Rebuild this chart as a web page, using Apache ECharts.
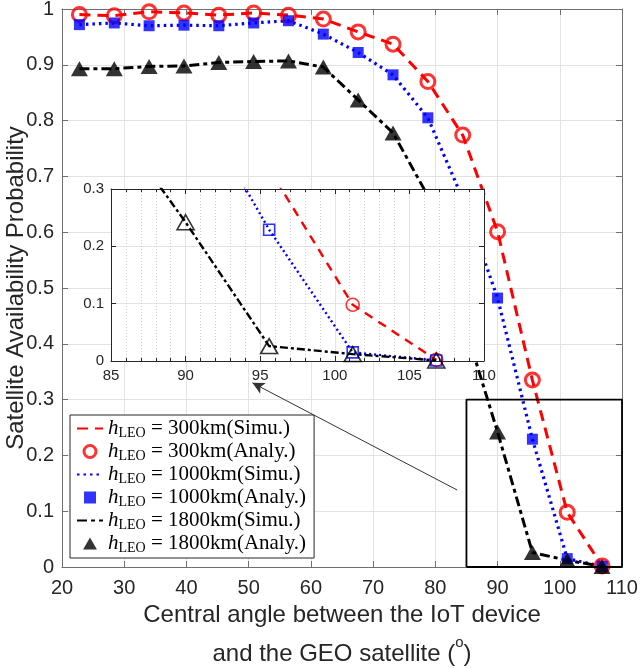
<!DOCTYPE html>
<html><head><meta charset="utf-8">
<script src="https://cdn.jsdelivr.net/npm/echarts@6/dist/echarts.min.js"></script>
<style>html,body{margin:0;padding:0;background:#fff}#c{width:640px;height:668px}</style>
</head><body><div id="c"></div>
<script>
// ---- data ----
const angles = [22.8, 28.4, 34, 39.6, 45.2, 50.8, 56.4, 62, 67.6, 73.2, 78.8, 84.4, 90, 95.6, 101.2, 106.8];
const p300  = [0.990, 0.988, 0.995, 0.993, 0.989, 0.993, 0.989, 0.982, 0.959, 0.937, 0.870, 0.774, 0.601, 0.335, 0.098, 0.002];
const p1000 = [0.972, 0.975, 0.970, 0.971, 0.970, 0.975, 0.979, 0.955, 0.922, 0.882, 0.805, 0.660, 0.482, 0.229, 0.015, 0.001];
const p1800 = [0.893, 0.893, 0.897, 0.898, 0.904, 0.906, 0.907, 0.896, 0.837, 0.778, 0.665, 0.445, 0.242, 0.026, 0.012, 0.001];
const mainX = {min: 20, max: 110, step: 10};
const mainY = {min: 0, max: 1, step: 0.1};
const insetX = {min: 85, max: 110, step: 5};
const insetY = {min: 0, max: 0.3, step: 0.1};
const arrowFrom = [83.5, 0.138];
const arrowTo = [50.6, 0.33];
const legendText = {
  r_simu: '300km(Simu.)', r_analy: '300km(Analy.)',
  b_simu: '1000km(Simu.)', b_analy: '1000km(Analy.)',
  k_simu: '1800km(Simu.)', k_analy: '1800km(Analy.)'
};

const pairs = ys => angles.map((x, i) => [x, ys[i]]);
const zoomBox = [[insetX.min, insetY.min], [insetX.min, insetY.max], [insetX.max, insetY.max], [insetX.max, insetY.min], [insetX.min, insetY.min]];

const RED = '#ff0000', BLUE = '#0000ff', BLACK = '#000000';
const AX = '#262626', AXL = '#707070', GRID = '#e3e3e3';
const SANS = 'Liberation Sans';
const SERIF = 'Liberation Serif';
const fmt = v => String(+v.toFixed(1));

const dashR = [11, 7];
const dotB = [2.5, 4];
const dashK = [10, 4, 4, 4];

function axisX(grid, pos, r, showLabel, opts) {
  return Object.assign({
    type: 'value', gridIndex: grid, position: pos, min: r.min, max: r.max, interval: r.step,
    axisLine: {show: true, onZero: false, lineStyle: {color: AXL, width: 1}},
    axisTick: {show: true, inside: true, length: 6, lineStyle: {color: AXL}},
    axisLabel: {show: showLabel, color: AX, fontFamily: SANS, fontSize: 20, margin: 11, formatter: fmt},
    splitLine: {show: false}
  }, opts || {});
}
function axisY(grid, pos, r, showLabel, opts) {
  return Object.assign({
    type: 'value', gridIndex: grid, position: pos, min: r.min, max: r.max, interval: r.step,
    axisLine: {show: true, onZero: false, lineStyle: {color: AXL, width: 1}},
    axisTick: {show: true, inside: true, length: 6, lineStyle: {color: AXL}},
    axisLabel: {show: showLabel, color: AX, fontFamily: SANS, fontSize: 20, margin: 8, formatter: fmt},
    splitLine: {show: false}
  }, opts || {});
}

const chart = echarts.init(document.getElementById('c'), null, {renderer: 'canvas'});

const mainSeries = [
  {name: 'r_simu', type: 'line', data: pairs(p300), symbol: 'none', lineStyle: {color: RED, width: 3, type: dashR}, itemStyle: {color: RED}, z: 3},
  {name: 'r_analy', type: 'scatter', data: pairs(p300), symbol: 'circle', symbolSize: 14,
   itemStyle: {color: 'rgba(255,255,255,0)', borderColor: RED, borderWidth: 3}, z: 4},
  {name: 'b_simu', type: 'line', data: pairs(p1000), symbol: 'none', lineStyle: {color: BLUE, width: 3.2, type: dotB}, itemStyle: {color: BLUE}, z: 3},
  {name: 'b_analy', type: 'scatter', data: pairs(p1000), symbol: 'rect', symbolSize: 11,
   itemStyle: {color: BLUE}, z: 4},
  {name: 'k_simu', type: 'line', data: pairs(p1800), symbol: 'none', lineStyle: {color: BLACK, width: 3, type: dashK}, itemStyle: {color: BLACK}, z: 3},
  {name: 'k_analy', type: 'scatter', data: pairs(p1800), symbol: 'triangle', symbolSize: [17, 15],
   itemStyle: {color: BLACK}, z: 4},
  {name: 'zoombox', type: 'line', data: zoomBox, symbol: 'none', clip: false, silent: true,
   lineStyle: {color: BLACK, width: 1.8}, z: 5,
   markLine: {silent: true, symbol: ['none', 'arrow'], symbolSize: [9, 12],
     lineStyle: {color: '#333', width: 1, type: 'solid'}, label: {show: false},
     data: [[{coord: arrowFrom}, {coord: arrowTo}]]}}
];
mainSeries.forEach(s => { s.xAxisIndex = 0; s.yAxisIndex = 0; });

const insetSeries = [
  {name: 'i_r_simu', type: 'line', data: pairs(p300), symbol: 'none', lineStyle: {color: RED, width: 2.4, type: [9, 7]}},
  {name: 'i_r_analy', type: 'scatter', data: pairs(p300), symbol: 'circle', symbolSize: 13,
   itemStyle: {color: 'rgba(255,255,255,0)', borderColor: RED, borderWidth: 1.6}},
  {name: 'i_b_simu', type: 'line', data: pairs(p1000), symbol: 'none', lineStyle: {color: BLUE, width: 2.4, type: [2, 3]}},
  {name: 'i_b_analy', type: 'scatter', data: pairs(p1000), symbol: 'rect', symbolSize: 11,
   itemStyle: {color: 'rgba(255,255,255,0)', borderColor: BLUE, borderWidth: 1.6}},
  {name: 'i_k_simu', type: 'line', data: pairs(p1800), symbol: 'none', lineStyle: {color: BLACK, width: 2.4, type: [8, 3, 3, 3]}},
  {name: 'i_k_analy', type: 'scatter', data: pairs(p1800), symbol: 'triangle', symbolSize: [17, 15],
   itemStyle: {color: 'rgba(255,255,255,0)', borderColor: BLACK, borderWidth: 1.6}}
];
insetSeries.forEach(s => { s.xAxisIndex = 2; s.yAxisIndex = 2; s.zlevel = 1; s.z = 5; s.silent = true; });

const SQUARE = 'path://M0,0H10V10H0Z';
const TRI = 'path://M6,0L12,10.4L0,10.4Z';
const hideSym = {opacity: 0};

chart.setOption({
  animation: false,
  backgroundColor: '#fff',
  grid: [
    {left: 62, top: 9, width: 560, height: 558, show: false, outerBoundsMode: 'none', containLabel: false},
    {left: 111, top: 189, width: 373, height: 172, show: true, backgroundColor: '#fff', borderWidth: 0, zlevel: 1, z: 0, outerBoundsMode: 'none', containLabel: false}
  ],
  xAxis: [
    axisX(0, 'bottom', mainX, true, {
      splitLine: {show: true, lineStyle: {color: GRID, width: 1}},
      name: 'Central angle between the IoT device\n{t|and the GEO satellite (}{sup|o}{t|)}',
      nameLocation: 'middle', nameGap: 29, nameMoveOverlap: false,
      nameTextStyle: {color: AX, fontFamily: SANS, fontSize: 24, lineHeight: 39,
        rich: {
          t: {fontFamily: SANS, fontSize: 24, color: AX, lineHeight: 39},
          sup: {fontFamily: SANS, fontSize: 15, color: AX, lineHeight: 34, verticalAlign: 'top'}
        }}
    }),
    axisX(0, 'top', mainX, false),
    axisX(1, 'bottom', insetX, true, {
      zlevel: 1, z: 3,
      axisLine: {show: true, onZero: false, lineStyle: {color: AX, width: 1}},
      axisLabel: {show: true, color: AX, fontFamily: SANS, fontSize: 15, margin: 7, formatter: fmt},
      axisTick: {show: true, inside: true, length: 5, lineStyle: {color: AX}},
      minorTick: {show: true, splitNumber: 5, length: 3, lineStyle: {color: AX}},
      splitLine: {show: true, lineStyle: {color: GRID, width: 1}},
      minorSplitLine: {show: true, lineStyle: {color: '#d0d0d0', width: 1, type: [1, 2]}}
    }),
    axisX(1, 'top', insetX, false, {
      zlevel: 1, z: 3,
      axisLine: {show: true, onZero: false, lineStyle: {color: AX, width: 1}},
      axisTick: {show: true, inside: true, length: 5, lineStyle: {color: AX}},
      minorTick: {show: true, splitNumber: 5, length: 3, lineStyle: {color: AX}}
    })
  ],
  yAxis: [
    axisY(0, 'left', mainY, true, {
      splitLine: {show: true, lineStyle: {color: GRID, width: 1}},
      name: 'Satellite Availability Probability', nameLocation: 'middle', nameGap: 34, nameMoveOverlap: false,
      nameTextStyle: {color: AX, fontFamily: SANS, fontSize: 24}
    }),
    axisY(0, 'right', mainY, false),
    axisY(1, 'left', insetY, true, {
      zlevel: 1, z: 3,
      axisLine: {show: true, onZero: false, lineStyle: {color: AX, width: 1}},
      axisLabel: {show: true, color: AX, fontFamily: SANS, fontSize: 15, margin: 7, formatter: fmt},
      axisTick: {show: true, inside: true, length: 5, lineStyle: {color: AX}},
      splitLine: {show: true, lineStyle: {color: GRID, width: 1}}
    }),
    axisY(1, 'right', insetY, false, {
      zlevel: 1, z: 3,
      axisLine: {show: true, onZero: false, lineStyle: {color: AX, width: 1}},
      axisTick: {show: true, inside: true, length: 5, lineStyle: {color: AX}}
    })
  ],
  legend: {
    show: true, orient: 'vertical', left: 70, top: 415, selectedMode: false,
    data: [
      {name: 'r_simu', itemStyle: hideSym},
      {name: 'r_analy', icon: 'circle', itemStyle: {color: '#fff', borderColor: RED, borderWidth: 3}},
      {name: 'b_simu', itemStyle: hideSym},
      {name: 'b_analy', icon: SQUARE},
      {name: 'k_simu', itemStyle: hideSym},
      {name: 'k_analy', icon: TRI}
    ],
    itemWidth: 26, itemHeight: 12, itemGap: 1,
    padding: [3, 8, 3, 6],
    borderColor: AX, borderWidth: 1, backgroundColor: '#fff',
    formatter: name => `{h|h}{s|LEO}{t| = ${legendText[name]}}`,
    textStyle: {
      color: '#000',
      rich: {
        h: {fontFamily: SERIF, fontStyle: 'italic', fontSize: 21, color: '#000', lineHeight: 20},
        s: {fontFamily: SERIF, fontSize: 14, color: '#000', padding: [9, 0, 0, 0]},
        t: {fontFamily: SERIF, fontSize: 21, color: '#000', lineHeight: 20}
      }
    }
  },
  series: mainSeries.concat(insetSeries)
});
</script>
</body></html>
